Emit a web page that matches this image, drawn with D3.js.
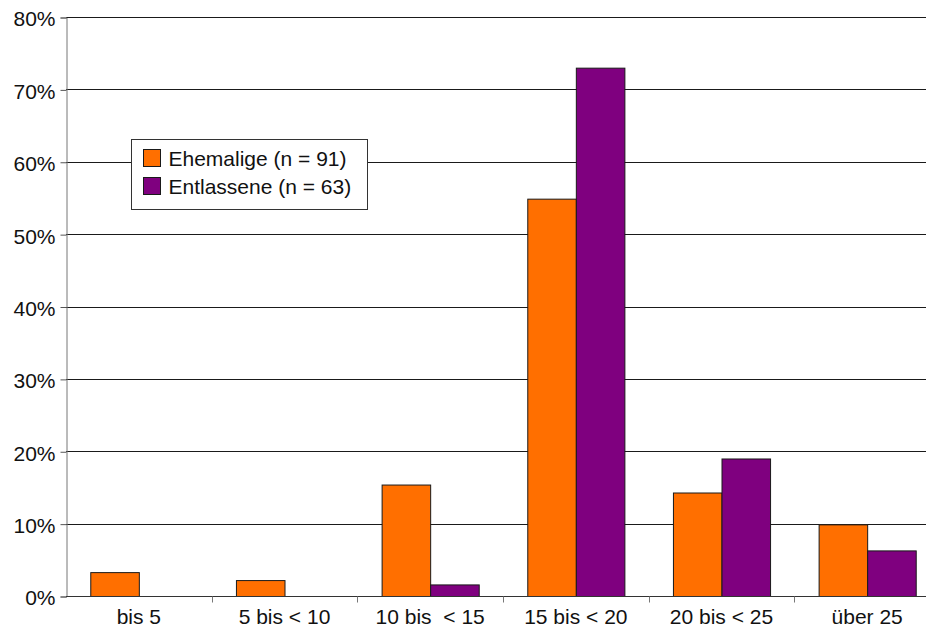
<!DOCTYPE html>
<html>
<head>
<meta charset="utf-8">
<script src="https://cdn.jsdelivr.net/npm/d3@7"></script>
<style>
  html, body { margin: 0; padding: 0; background: #fff; }
  svg { display: block; font-family: "Liberation Sans", Arial, sans-serif; }
  text { white-space: pre; }
</style>
</head>
<body>
<svg id="chart" width="926" height="629"></svg>
<script>
// Age groups (years) and share of respondents per group, in percent
const categories = ["bis 5", "5 bis < 10", "10 bis  < 15", "15 bis < 20", "20 bis < 25", "über 25"];
const ehemalige = [3.3, 2.2, 15.4, 54.9, 14.3, 9.9];
const entlassene = [0, 0, 1.6, 73.0, 19.0, 6.3];
const seriesNames = ["Ehemalige (n = 91)", "Entlassene (n = 63)"];
const seriesColors = ["#ff6f00", "#7f007f"];
const yTicks = [0, 10, 20, 30, 40, 50, 60, 70, 80];

const svg = d3.select("#chart");
const plotLeft = 66, plotRight = 940, plotTop = 17, plotBottom = 596;
const fontSize = 21;

const x = d3.scaleBand().domain(categories).range([plotLeft, plotRight]).paddingInner(0).paddingOuter(0);
const inner = d3.scaleBand().domain([0, 1]).range([0, x.bandwidth()]).paddingInner(0).paddingOuter(0.5);
const y = d3.scaleLinear().domain([0, 80]).range([plotBottom, plotTop]);

// horizontal gridlines
svg.append("g").selectAll("line").data(yTicks.filter(d => d > 0)).join("line")
  .attr("x1", plotLeft).attr("x2", plotRight)
  .attr("y1", d => Math.round(y(d)) + 0.5).attr("y2", d => Math.round(y(d)) + 0.5)
  .attr("stroke", "#1a1a1a").attr("stroke-width", 1);

// bars
const series = [ehemalige, entlassene];
series.forEach((vals, si) => {
  svg.append("g").selectAll("rect").data(vals.map((v, i) => ({ v, c: categories[i] })).filter(d => d.v > 0)).join("rect")
    .attr("x", d => x(d.c) + inner(si) + 0.5)
    .attr("y", d => y(d.v) + 0.5)
    .attr("width", inner.bandwidth())
    .attr("height", d => plotBottom - y(d.v))
    .attr("fill", seriesColors[si])
    .attr("stroke", "#1a1a1a").attr("stroke-width", 1);
});

// y axis
const yAxis = svg.append("g").attr("transform", `translate(${plotLeft + 0.5},0.5)`)
  .call(d3.axisLeft(y).tickValues(yTicks).tickSize(6).tickPadding(5).tickFormat(d => d + "%"));
yAxis.select(".domain").attr("stroke", "#777");
yAxis.selectAll(".tick line").attr("stroke", "#555");
yAxis.selectAll("text").attr("font-size", fontSize).attr("fill", "#111").attr("dy", "0.4em")
  .attr("font-family", "'Liberation Sans', Arial, sans-serif");

// x axis
const xAxis = svg.append("g").attr("transform", `translate(0,${plotBottom + 0.5})`);
xAxis.append("line").attr("x1", plotLeft).attr("x2", plotRight).attr("stroke", "#333");
xAxis.selectAll("line.tick").data(categories.slice(1)).join("line").attr("class", "tick")
  .attr("x1", d => Math.round(x(d)) + 0.5).attr("x2", d => Math.round(x(d)) + 0.5)
  .attr("y1", 0).attr("y2", 6).attr("stroke", "#777");
xAxis.selectAll("text").data(categories).join("text")
  .attr("x", d => x(d) + x.bandwidth() / 2).attr("y", 27.5)
  .attr("text-anchor", "middle").attr("font-size", fontSize).attr("fill", "#111")
  .text(d => d);

// legend
const lg = svg.append("g").attr("transform", "translate(131.5,139.5)");
lg.append("rect").attr("width", 236).attr("height", 70).attr("fill", "#fff").attr("stroke", "#333");
seriesNames.forEach((name, i) => {
  lg.append("rect").attr("x", 12).attr("y", 10 + i * 28).attr("width", 17).attr("height", 17)
    .attr("fill", seriesColors[i]).attr("stroke", "#1a1a1a");
  lg.append("text").attr("x", 37).attr("y", 26 + i * 28.5).attr("font-size", fontSize).attr("fill", "#111").text(name);
});
</script>
</body>
</html>
